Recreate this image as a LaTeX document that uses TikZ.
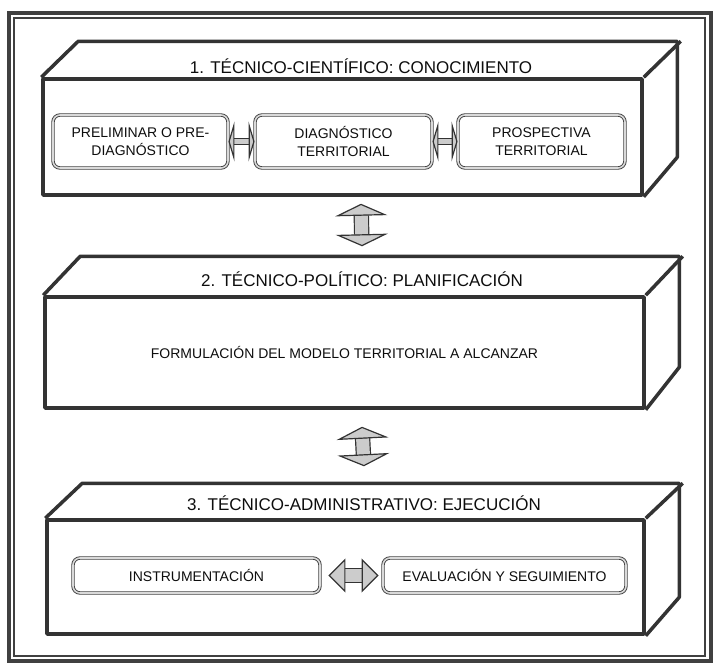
\documentclass[tikz,border=0pt]{standalone}
\usepackage{fontspec}
\setmainfont{Liberation Sans}
\usetikzlibrary{arrows.meta,calc,positioning}

\tikzset{
  cara/.style={draw=black!80, line width=3.5pt, line join=round, inner sep=0pt},
  caja/.style={draw=black!75, line width=0.9pt, double=black!15, double distance=1.6pt,
    rounded corners=7pt, align=center, inner sep=0pt, text=black!95,
    font=\fontsize{14}{17.5}\selectfont},
  titulo/.style={font=\fontsize{17}{20}\selectfont, text=black!95},
  flecha/.style={draw=black!80, line width=1.2pt, double=black!20, double distance=#1},
}

\begin{document}
\begin{tikzpicture}[x=1pt, y=-1pt]
  \useasboundingbox (0,0) rectangle (716,665);
  % marco doble
  \draw[line width=4pt, black!75] (8.5,12.5) rectangle (710.5,661);
  \draw[line width=1.2pt, black!75] (14,18) rectangle (705,656);

  % 1. conocimiento
  \node[cara, minimum width=599pt, minimum height=116pt] (b1) at (342.5,137) {};
  \draw[cara] (b1.north west) -- ++(37,-36) -- ++(599,0) -- ++(0,116) -- (b1.south east);
  \draw[cara] (b1.north east) -- ++(37,-36);
  \node[titulo] (t1) at (361,66) {1. TÉCNICO-CIENTÍFICO: CONOCIMIENTO};
  \node[caja, minimum width=175pt, minimum height=53pt] (pre) at (140.5,141.5) {PRELIMINAR O PRE-\\DIAGNÓSTICO};
  \node[caja, minimum width=177pt, minimum height=53pt] (diag) at (343.5,141.5) {DIAGNÓSTICO\\TERRITORIAL};
  \node[caja, minimum width=167pt, minimum height=53pt] (prosp) at (541.5,141.5) {PROSPECTIVA\\TERRITORIAL};
  \draw[flecha=5pt, {Triangle[width=40pt,length=6pt,fill=black!20,line width=1.2pt]}-{Triangle[width=40pt,length=6pt,fill=black!20,line width=1.2pt]}] (pre) -- (diag);
  \draw[flecha=5pt, {Triangle[width=40pt,length=6pt,fill=black!20,line width=1.2pt]}-{Triangle[width=40pt,length=6pt,fill=black!20,line width=1.2pt]}] (diag) -- (prosp);

  % 2. planificacion
  \node[cara, minimum width=599pt, minimum height=111pt, font=\fontsize{14}{17}\selectfont, text=black!95] (b2) at (344.5,352.5) {FORMULACIÓN DEL MODELO TERRITORIAL A ALCANZAR};
  \draw[cara] (b2.north west) -- ++(37,-39) -- ++(599,0) -- ++(0,111) -- (b2.south east);
  \draw[cara] (b2.north east) -- ++(37,-39);
  \node[titulo] (t2) at (362,279) {2. TÉCNICO-POLÍTICO: PLANIFICACIÓN};

  % 3. ejecucion
  \node[cara, minimum width=597pt, minimum height=114pt] (b3) at (345.5,577) {};
  \draw[cara] (b3.north west) -- ++(37,-35) -- ++(597,0) -- ++(0,114) -- (b3.south east);
  \draw[cara] (b3.north east) -- ++(37,-35);
  \node[titulo] (t3) at (364,503) {3. TÉCNICO-ADMINISTRATIVO: EJECUCIÓN};
  \node[caja, minimum width=247pt, minimum height=35pt] (inst) at (196.5,575.5) {INSTRUMENTACIÓN};
  \node[caja, minimum width=243pt, minimum height=35pt] (eval) at (504.5,575.5) {EVALUACIÓN Y SEGUIMIENTO};
  \draw[flecha=13pt, shorten <=8pt, shorten >=4pt, {Triangle[width=34pt,length=17pt,fill=black!20,line width=1.2pt]}-{Triangle[width=34pt,length=17pt,fill=black!20,line width=1.2pt]}] (inst) -- (eval);

  % flechas entre niveles
  \draw[flecha=13pt, {Triangle[width=52pt,length=12pt,fill=black!20,line width=1.2pt]}-{Triangle[width=52pt,length=12pt,fill=black!20,line width=1.2pt]}]
    ($(t1 |- b1.south)+(0,7)$) -- ($(t2 |- b2.north)+(0,-49)$);
  \draw[flecha=13pt, {Triangle[width=52pt,length=12pt,fill=black!20,line width=1.2pt]}-{Triangle[width=52pt,length=12pt,fill=black!20,line width=1.2pt]}]
    ($(t2 |- b2.south)+(0,17)$) -- ($(t3 |- b3.north)+(0,-52)$);
\end{tikzpicture}
\end{document}
